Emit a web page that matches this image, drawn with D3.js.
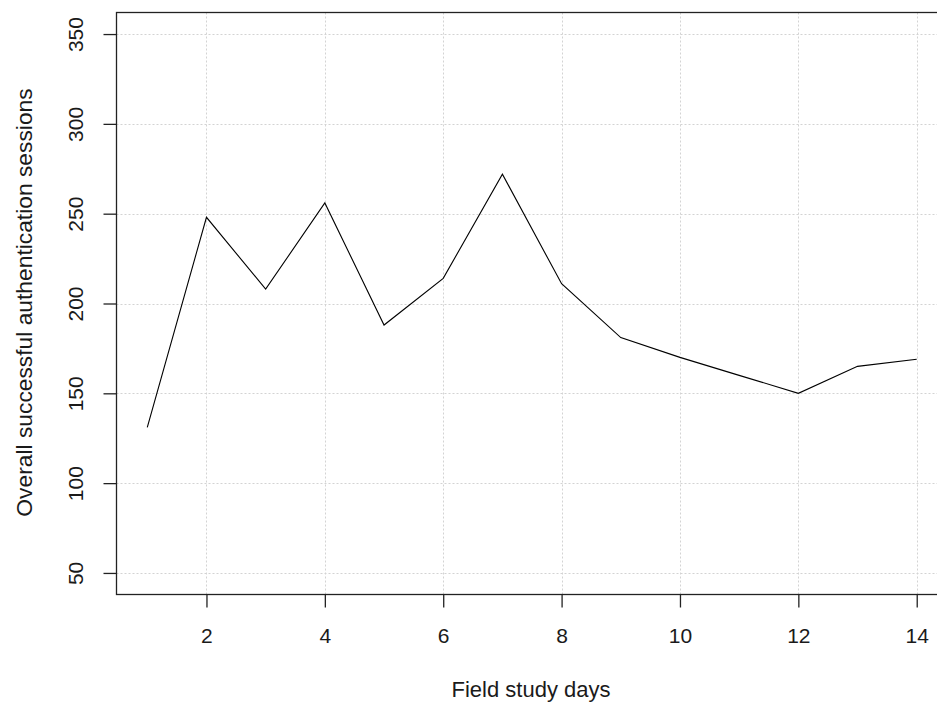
<!DOCTYPE html>
<html>
  <head>
    <meta charset="utf-8">
    <title>Field study sessions</title>
    <script src="https://cdn.jsdelivr.net/npm/d3@7"></script>
    <style type="text/css">
      body { margin: 0; background: #fff; }
      svg text { font-family: "Liberation Sans", Arial, sans-serif; fill: #1a1a1a; }
    </style>
  </head>
  <body>
    <script>
    // data
    var days = [1, 2, 3, 4, 5, 6, 7, 8, 9, 10, 11, 12, 13, 14];
    var sessions = [131, 248, 208, 256, 188, 214, 272, 211, 181, 170, 160, 150, 165, 169];
    var xTicks = [2, 4, 6, 8, 10, 12, 14];
    var yTicks = [50, 100, 150, 200, 250, 300, 350];

    var width = 937, height = 702;
    // plot box (right side runs past the window, like the original)
    var boxLeft = 116.5, boxRight = 947.5, boxTop = 12.5, boxBottom = 594.5;

    // R style 4% padding around the ranges
    var xScale = d3.scaleLinear().domain([0.48, 14.52]).range([boxLeft, boxRight]);
    var yScale = d3.scaleLinear().domain([38, 362]).range([boxBottom, boxTop]);

    var svg = d3.select("body").append("svg")
        .attr("width", width)
        .attr("height", height);

    // dotted grid
    svg.append("g").selectAll("line")
      .data(xTicks).enter().append("line")
        .attr("x1", function(d) { return Math.round(xScale(d)) + 0.5; })
        .attr("x2", function(d) { return Math.round(xScale(d)) + 0.5; })
        .attr("y1", boxTop).attr("y2", boxBottom)
        .attr("stroke", "#d3d3d3").attr("stroke-dasharray", "2,2");

    svg.append("g").selectAll("line")
      .data(yTicks).enter().append("line")
        .attr("x1", boxLeft).attr("x2", boxRight)
        .attr("y1", function(d) { return Math.round(yScale(d)) + 0.5; })
        .attr("y2", function(d) { return Math.round(yScale(d)) + 0.5; })
        .attr("stroke", "#d3d3d3").attr("stroke-dasharray", "2,2");

    // the series
    var line = d3.line()
        .x(function(d, i) { return xScale(days[i]); })
        .y(function(d) { return yScale(d); });

    svg.append("path")
        .datum(sessions)
        .attr("d", line)
        .attr("fill", "none")
        .attr("stroke", "#000")
        .attr("stroke-width", 1.1);

    // box
    svg.append("rect")
        .attr("x", boxLeft).attr("y", boxTop)
        .attr("width", boxRight - boxLeft).attr("height", boxBottom - boxTop)
        .attr("fill", "none").attr("stroke", "#222").attr("stroke-width", 1.3);

    // axes
    var xAxis = svg.append("g")
        .attr("transform", "translate(0," + boxBottom + ")")
        .call(d3.axisBottom(xScale).tickValues(xTicks).tickSize(13).tickFormat(d3.format("d")));
    xAxis.select(".domain").remove();
    xAxis.selectAll("line").attr("stroke", "#222").attr("stroke-width", 1.3);
    xAxis.selectAll("text")
        .attr("y", 48.5).attr("dy", 0)
        .style("font-size", "21px");

    var yAxis = svg.append("g")
        .attr("transform", "translate(" + boxLeft + ",0)")
        .call(d3.axisLeft(yScale).tickValues(yTicks).tickSize(13));
    yAxis.select(".domain").remove();
    yAxis.selectAll("line").attr("stroke", "#222").attr("stroke-width", 1.3);
    yAxis.selectAll("text")
        .attr("transform", "rotate(-90)")
        .attr("x", 0).attr("y", -33.5).attr("dy", 0)
        .attr("text-anchor", "middle")
        .style("font-size", "21px");

    // axis titles
    svg.append("text")
        .attr("x", 531).attr("y", 697)
        .attr("text-anchor", "middle")
        .style("font-size", "22px")
        .text("Field study days");

    svg.append("text")
        .attr("transform", "translate(31.5," + 302.5 + ") rotate(-90)")
        .attr("text-anchor", "middle")
        .style("font-size", "22.8px")
        .text("Overall successful authentication sessions");
    </script>
  </body>
</html>
